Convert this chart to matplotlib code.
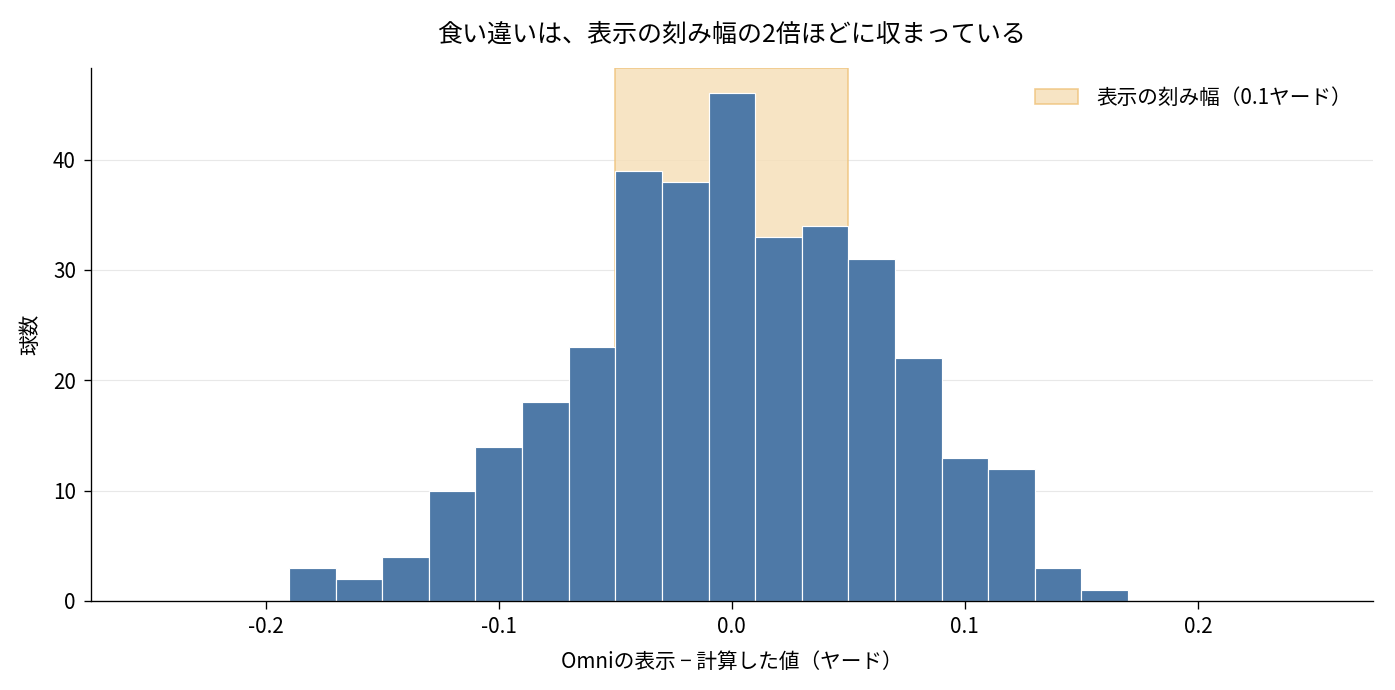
import numpy as np
import matplotlib
matplotlib.use("Agg")
import matplotlib.pyplot as plt

plt.rcParams['font.family'] = ['Noto Sans CJK JP', 'DejaVu Sans']
plt.rcParams['axes.unicode_minus'] = False

# histogram bins (yards) and counts
bin_edges = np.round(np.arange(-0.19, 0.1701, 0.02), 2)
counts = [3, 2, 4, 10, 14, 18, 23, 39, 38, 46, 33, 34, 31, 22, 13, 12, 3, 1]
display_step = 0.1

fig, ax = plt.subplots(figsize=(11.625, 5.75), dpi=120)

ax.axvspan(-display_step / 2, display_step / 2, facecolor='#f6deb6', edgecolor='#efc27a',
           alpha=0.8, linewidth=1, label='表示の刻み幅（0.1ヤード）', zorder=1)
ax.bar(bin_edges[:-1], counts, width=np.diff(bin_edges), align='edge',
       color='#4e79a7', edgecolor='white', linewidth=0.7, zorder=2)

ax.set_xlim(-0.275, 0.275)
ax.set_ylim(0, 48.3)
ax.set_xticks([-0.2, -0.1, 0.0, 0.1, 0.2])
ax.set_yticks([0, 10, 20, 30, 40])
ax.tick_params(labelsize=12.4, length=4.5, pad=4.5)
ax.grid(axis='y', color='#e8e8e8', linewidth=0.7, zorder=0)
ax.set_axisbelow(True)
for s in ['top', 'right']:
    ax.spines[s].set_visible(False)

ax.set_xlabel('Omniの表示 − 計算した値（ヤード）', fontsize=12.4, labelpad=7.5)
ax.set_ylabel('球数', fontsize=12.4, labelpad=7)
ax.set_title('食い違いは、表示の刻み幅の2倍ほどに収まっている', fontsize=15, pad=16)
ax.legend(loc='upper right', bbox_to_anchor=(0.998, 1.0), frameon=False, fontsize=12.4,
          handlelength=2.1, handletextpad=0.85)

plt.subplots_adjust(left=0.0652, right=0.984, top=0.9014, bottom=0.129)
fig.savefig('out.png', dpi=120)
